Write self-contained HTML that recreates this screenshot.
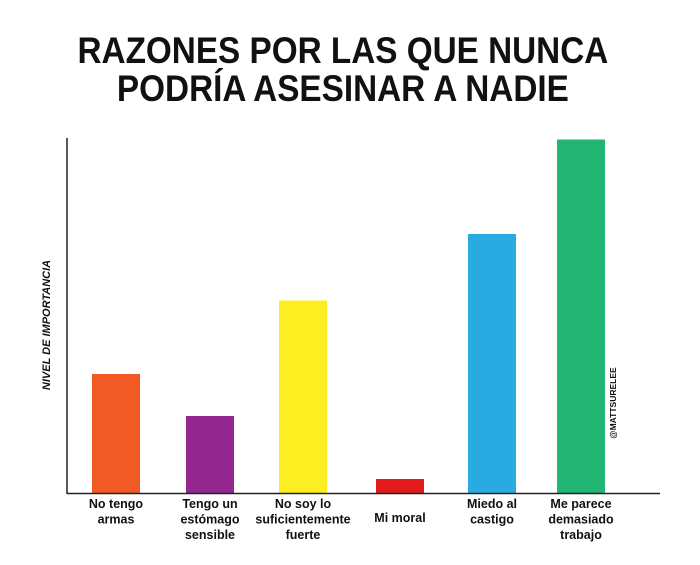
<!DOCTYPE html>
<html><head><meta charset="utf-8"><style>
body{margin:0;background:#fff;width:700px;height:560px;overflow:hidden;font-family:"Liberation Sans",sans-serif}
</style></head><body>
<svg width="700" height="560">
<g font-family="Liberation Sans, sans-serif" font-weight="bold" font-size="37" text-anchor="middle" fill="#111" transform="scale(0.9,1)">
<text x="381" y="63">RAZONES POR LAS QUE NUNCA</text>
<text x="381" y="101">PODRÍA ASESINAR A NADIE</text>
</g>
<text transform="translate(50,325) rotate(-90)" text-anchor="middle" font-size="11" font-weight="bold" font-style="italic" fill="#111">NIVEL DE IMPORTANCIA</text>
<text transform="translate(616,403) rotate(-90)" text-anchor="middle" font-size="8.5" font-weight="bold" fill="#111">@MATTSURELEE</text>
<g id="bars"></g>
<g id="labels" font-size="12.5" font-weight="bold" text-anchor="middle" fill="#111"></g>
<line x1="67" y1="138" x2="67" y2="494" stroke="#222" stroke-width="1.5"/>
<line x1="67" y1="493.5" x2="660" y2="493.5" stroke="#222" stroke-width="1.5"/>
</svg>
<script>
const categories=[["No tengo","armas"],["Tengo un","estómago","sensible"],["No soy lo","suficientemente","fuerte"],["Mi moral"],["Miedo al","castigo"],["Me parece","demasiado","trabajo"]];
const values=[34,22,55,4,74,101];
const colors=["#f15a24","#93278f","#fcee21","#e21b1b","#29abe2","#22b573"];
const centers=[116,210,303,400,492,581];
const y0=493, yScale=v=>y0-v*3.5;
const bars=document.getElementById('bars'),labels=document.getElementById('labels');
const ns="http://www.w3.org/2000/svg";
values.forEach((v,i)=>{
 const r=document.createElementNS(ns,'rect');
 
 
 r.setAttribute('x',centers[i]-24);r.setAttribute('width',48);
 r.setAttribute('y',yScale(v));r.setAttribute('height',y0-yScale(v));
 r.setAttribute('fill',colors[i]);bars.appendChild(r);
 const lines=categories[i];
 const t=document.createElementNS(ns,'text');
 
 
 const startY=lines.length===1?522:508;
 lines.forEach((l,j)=>{const s=document.createElementNS(ns,'tspan');s.setAttribute('x',centers[i]);s.setAttribute('y',startY+j*15.5);s.textContent=l;t.appendChild(s);});
 labels.appendChild(t);
});
</script>
</body></html>
